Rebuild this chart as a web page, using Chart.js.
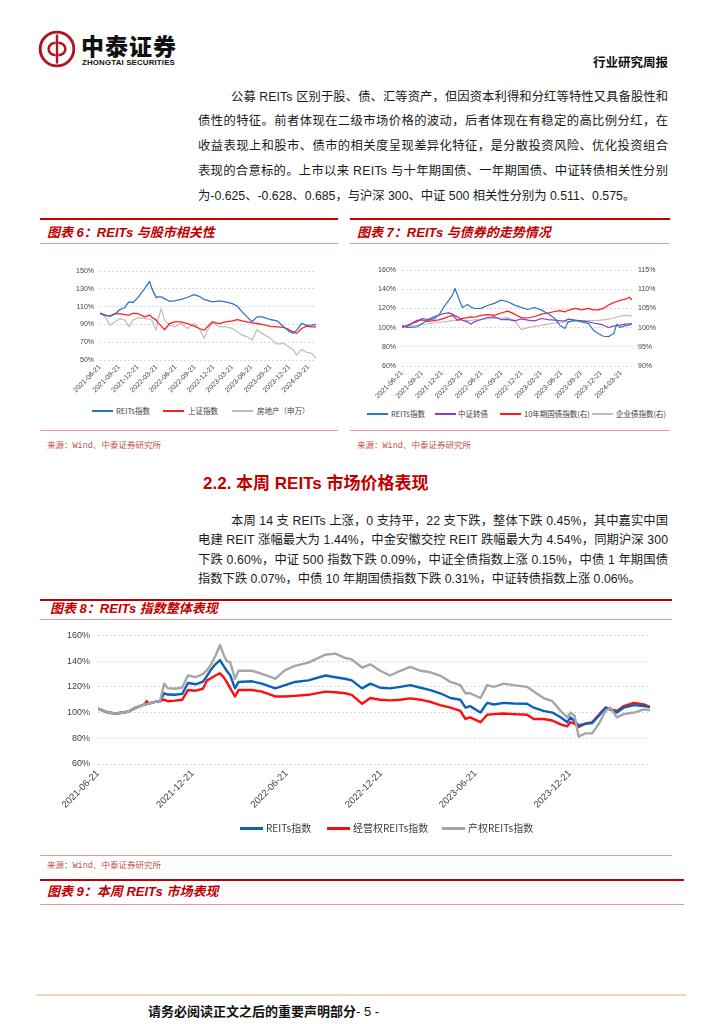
<!DOCTYPE html>
<html>
<head>
<meta charset="utf-8">
<script src="https://cdn.jsdelivr.net/npm/chart.js@4.4.1/dist/chart.umd.min.js"></script>
<style>
  body { margin: 0; background: #fff; }
  #page { position: relative; width: 724px; height: 1024px; overflow: hidden; background: #fff;
          font-family: "Liberation Sans", "Noto Sans CJK SC", sans-serif; color: #1a1a1a; }
  .abs { position: absolute; white-space: nowrap; }
  .txt { position: absolute; white-space: nowrap; font-size: 12.3px; line-height: 18px; height: 18px; }
  .thick { position: absolute; height: 2px; background: #c00000; }
  .thin { position: absolute; height: 1px; background: #e99a9a; }
  .ctitle { position: absolute; white-space: nowrap; color: #c00000; font: italic bold 13px "Liberation Sans", "Noto Sans CJK SC", sans-serif; line-height: 16px; }
  .src { position: absolute; white-space: nowrap; color: #c0504d; font: 8.5px "Liberation Mono", "Noto Sans CJK SC", monospace; line-height: 10px; }
  .box { position: absolute; }
  .lg-line { position: absolute; }
  .lg-text { position: absolute; white-space: nowrap; color: #404040; font-family: "Noto Sans CJK SC", sans-serif; }
</style>
</head>
<body>
<div id="page">
  <!-- header -->
  <svg class="abs" style="left:38px;top:30px" width="38" height="38" viewBox="0 0 42 42">
    <circle cx="21" cy="21" r="18.6" fill="none" stroke="#b3141c" stroke-width="3.2"/>
    <path d="M21 5 V37" stroke="#b3141c" stroke-width="2.6"/>
    <path d="M19.5 14.5 A6.6 6.6 0 1 0 19.5 27.5" fill="none" stroke="#b3141c" stroke-width="2.8"/>
    <path d="M22.5 14.5 A6.6 6.6 0 1 1 22.5 27.5" fill="none" stroke="#b3141c" stroke-width="2.8"/>
  </svg>
  <div class="abs" style="left:81px;top:31px;font:900 23px 'Noto Sans CJK SC';line-height:28px;letter-spacing:1px;color:#111;">中泰证券</div>
  <div class="abs" style="left:82px;top:58px;font:bold 7.9px 'Liberation Sans';line-height:10px;letter-spacing:0.15px;color:#111;">ZHONGTAI SECURITIES</div>
  <div class="abs" style="left:592px;top:53px;width:76px;text-align:right;font:bold 12.5px 'Noto Sans CJK SC';line-height:18px;color:#111;">行业研究周报</div>

  <!-- paragraph 1 -->
  <div class="txt fit" data-w="437" style="left:231px;top:88px;">公募 REITs 区别于股、债、汇等资产，但因资本利得和分红等特性又具备股性和</div>
  <div class="txt fit" data-w="470" style="left:198px;top:112px;">债性的特征。前者体现在二级市场价格的波动，后者体现在有稳定的高比例分红，在</div>
  <div class="txt fit" data-w="470" style="left:198px;top:137px;">收益表现上和股市、债市的相关度呈现差异化特征，是分散投资风险、优化投资组合</div>
  <div class="txt fit" data-w="470" style="left:198px;top:162px;">表现的合意标的。上市以来 REITs 与十年期国债、一年期国债、中证转债相关性分别</div>
  <div class="txt" style="left:198px;top:187px;">为-0.625、-0.628、0.685，与沪深 300、中证 500 相关性分别为 0.511、0.575。</div>

  <!-- figure 6 frame -->
  <div class="thick" style="left:40px;top:218px;width:298px;"></div>
  <div class="ctitle" style="left:47px;top:225px;">图表 6：REITs 与股市相关性</div>
  <div class="thin" style="left:40px;top:243px;width:298px;"></div>
  <div class="box" style="left:40px;top:250px;width:298px;height:145px;"><canvas id="fig6"></canvas></div>
  <div class="thin" style="left:40px;top:430px;width:298px;"></div>
  <div class="src" style="left:47px;top:441px;">来源：Wind、中泰证券研究所</div>

  <!-- figure 7 frame -->
  <div class="thick" style="left:350px;top:218px;width:320px;"></div>
  <div class="ctitle" style="left:357px;top:225px;">图表 7：REITs 与债券的走势情况</div>
  <div class="thin" style="left:350px;top:243px;width:320px;"></div>
  <div class="box" style="left:350px;top:250px;width:320px;height:150px;"><canvas id="fig7"></canvas></div>
  <div class="thin" style="left:350px;top:430px;width:320px;"></div>
  <div class="src" style="left:357px;top:441px;">来源：Wind、中泰证券研究所</div>

  <!-- section 2.2 -->
  <div class="abs" style="left:203px;top:473px;font:bold 17px 'Liberation Sans','Noto Sans CJK SC';line-height:22px;color:#c00000;">2.2. 本周 REITs 市场价格表现</div>
  <div class="txt fit" data-w="437" style="left:231px;top:512px;">本周 14 支 REITs 上涨，0 支持平，22 支下跌，整体下跌 0.45%，其中嘉实中国</div>
  <div class="txt fit" data-w="470" style="left:198px;top:531px;">电建 REIT 涨幅最大为 1.44%，中金安徽交控 REIT 跌幅最大为 4.54%，同期沪深 300</div>
  <div class="txt fit" data-w="470" style="left:198px;top:551px;">下跌 0.60%，中证 500 指数下跌 0.09%，中证全债指数上涨 0.15%，中债 1 年期国债</div>
  <div class="txt" style="left:198px;top:570px;">指数下跌 0.07%，中债 10 年期国债指数下跌 0.31%，中证转债指数上涨 0.06%。</div>

  <!-- figure 8 frame -->
  <div class="thick" style="left:40px;top:599px;width:632px;"></div>
  <div class="ctitle" style="left:50px;top:601px;">图表 8：REITs 指数整体表现</div>
  <div class="thin" style="left:40px;top:619px;width:632px;"></div>
  <div class="box" style="left:40px;top:622px;width:632px;height:200px;"><canvas id="fig8"></canvas></div>
  <div class="thin" style="left:40px;top:855px;width:632px;"></div>
  <div class="src" style="left:47px;top:861px;">来源：Wind、中泰证券研究所</div>

  <!-- figure 9 frame -->
  <div class="thick" style="left:40px;top:879px;width:644px;"></div>
  <div class="ctitle" style="left:47px;top:884px;">图表 9：本周 REITs 市场表现</div>
  <div class="thin" style="left:40px;top:904px;width:644px;"></div>

  <!-- footer -->
  <div class="abs" style="left:36px;top:994px;width:650px;height:2px;background:#f0d6bf;"></div>
  <div class="abs" style="left:148px;top:1001px;line-height:18px;"><span style="font:bold 13px 'Noto Sans CJK SC';color:#111;">请务必阅读正文之后的重要声明部分</span><span style="font:13px 'Liberation Sans';color:#111;">- 5 -</span></div>
</div>

<script>
// ---------------- figure 6: REITs vs equity ----------------
const dates6 = ['2021-06-21','2021-07-15','2021-08-08','2021-09-01','2021-09-25','2021-10-19','2021-11-07','2021-11-27','2021-12-21',
  '2022-01-22','2022-02-15','2022-02-26','2022-03-19','2022-03-27','2022-04-12','2022-04-28','2022-05-22','2022-06-15','2022-07-17',
  '2022-08-17','2022-09-18','2022-10-12','2022-11-05','2022-11-21','2022-12-15','2023-01-16','2023-02-17','2023-03-21','2023-04-14',
  '2023-05-07','2023-05-31','2023-06-24','2023-07-18','2023-08-11','2023-09-20','2023-10-22','2023-11-23','2023-12-17','2024-01-09',
  '2024-01-25','2024-02-18','2024-03-13','2024-04-06','2024-04-27'];
const reits6 = [103, 100.4, 99.3, 101.5, 106.7, 109, 115.3, 114.6, 120.1, 130.2, 138.4, 130.2, 120.1, 121, 121, 119, 116, 116.5, 118,
  120.5, 123.5, 121.6, 118, 117, 115.3, 116.4, 115.3, 113.4, 110.4, 104.1, 98.5, 92.9, 98.5, 98.5, 95.5, 94, 87.3, 82.8, 79.9,
  83.6, 91.1, 89, 89.2, 89.9];
const shIndex6 = [102.2, 100.4, 99.3, 102.2, 101.8, 101, 100.4, 102.5, 102, 98.5, 100.4, 98, 94.8, 92, 88, 84, 91, 92.9, 92.9,
  91, 88, 85.4, 83.6, 87.3, 92.9, 91, 92.9, 94, 95.5, 94, 92.9, 91.8, 91, 90, 87.8, 87.3, 86.6, 84.3, 81.7,
  79.9, 85.4, 88, 87.3, 87.3];
const realEstate6 = [102.2, 99, 89.2, 92.9, 96.6, 94.8, 87.3, 94.8, 97.5, 96.6, 96, 94.8, 83.6, 94.8, 107.8, 94.8, 89.2, 87.3, 91,
  85.4, 91, 85.4, 74.3, 83.6, 92, 87.3, 87.3, 85.4, 81.7, 78, 76.1, 72.4, 84, 79.9, 74.3, 67.9, 68.7, 64.9, 61.2,
  55.6, 61.9, 58.5, 57.5, 51.9];
const quarterTicks = ['2021-06-21','2021-09-21','2021-12-21','2022-03-21','2022-06-21','2022-09-21','2022-12-21','2023-03-21',
  '2023-06-21','2023-09-21','2023-12-21','2024-03-21'];

// ---------------- figure 7: REITs vs bonds ----------------
const dates7 = ['2021-06-21','2021-07-14','2021-08-06','2021-08-29','2021-09-21','2021-10-18','2021-11-14','2021-12-07','2021-12-30',
  '2022-01-22','2022-02-07','2022-02-19','2022-03-02','2022-03-14','2022-03-25','2022-04-17','2022-05-03','2022-05-18','2022-06-18',
  '2022-07-18','2022-08-18','2022-09-18','2022-10-19','2022-11-19','2022-12-19','2023-01-19','2023-02-19','2023-03-22','2023-04-21',
  '2023-05-22','2023-06-14','2023-07-07','2023-07-23','2023-08-23','2023-09-22','2023-10-23','2023-11-15','2023-12-08','2023-12-31',
  '2024-01-23','2024-02-16','2024-03-02','2024-03-17','2024-04-09','2024-04-28','2024-05-10'];
const reits7 = [102.5, 100.1, 100.5, 100.8, 104.3, 107.7, 109, 113, 121.5, 128.6, 133.9, 140.8, 133.9, 126.9, 121, 124, 121.5, 119.9, 120,
  123, 125.2, 128.6, 126.9, 123.4, 121, 118.9, 121, 118.2, 114.7, 109.5, 102.5, 99, 106, 107.7, 106, 104.3, 97.3, 93.8, 91,
  90.5, 93.8, 103.6, 100.1, 102, 102.5, 104.3];
const convBond7 = [100.8, 101.5, 104.3, 106, 109.5, 108.4, 111.2, 113, 114.7, 115.4, 114, 112.5, 111.2, 109.5, 107.7, 106, 103.6, 106, 108.4,
  110.5, 111.2, 108.4, 108.5, 107, 109, 107.7, 107, 109.5, 108.4, 107.7, 107.2, 107, 108.8, 107.7, 107, 106, 104.8, 103.8, 102.5,
  100.1, 101.5, 102, 102.5, 103.6, 104, 104.3];
const govBond7 = [100, 100.6, 101.1, 101.9, 102, 101.6, 101.8, 102, 102.4, 102.9, 103.2, 102.6, 101.9, 102.2, 102.4, 102.6, 102.8, 102.7, 103.2,
  103.4, 103.2, 103.8, 104.3, 103.5, 102.6, 102.5, 102.9, 103.5, 103.8, 104.2, 104.4, 104.1, 104.5, 105, 104.6, 105, 104.6, 104.6, 105,
  105.9, 106.5, 106.8, 107.1, 107.4, 107.9, 107.2];
const corpBond7 = [100, 100.3, 100.5, 100.6, 100.8, 101, 101.2, 101.4, 101.5, 101.7, 101.9, 101.9, 101.8, 101.9, 101.9, 101.9, 101.9, 102, 102.1,
  102.3, 102.4, 102.5, 102.6, 101.9, 99.5, 100, 100.4, 100.6, 100.9, 101.2, 101.3, 101.5, 101.5, 101.6, 101.8, 101.8, 101.8, 101.9, 102,
  102.2, 102.5, 102.8, 103, 103.2, 103.1, 103];

// ---------------- figure 8: REITs index family ----------------
const dates8 = ['2021-06-21','2021-07-01','2021-07-11','2021-07-24','2021-08-06','2021-08-19','2021-09-01','2021-09-20','2021-09-23','2021-09-27',
  '2021-10-09','2021-10-19','2021-10-27','2021-11-03','2021-11-17','2021-12-01','2021-12-12','2021-12-27','2022-01-10','2022-01-18',
  '2022-01-24','2022-02-03','2022-02-12','2022-02-19','2022-02-25','2022-03-04','2022-03-13','2022-03-20','2022-04-15','2022-05-04',
  '2022-05-30','2022-06-18','2022-07-07','2022-08-02','2022-09-04','2022-09-23','2022-10-12','2022-10-25','2022-11-14','2022-11-30',
  '2022-12-19','2023-01-07','2023-01-27','2023-02-15','2023-03-07','2023-03-26','2023-04-14','2023-05-04','2023-05-23','2023-06-02',
  '2023-06-11','2023-07-01','2023-07-14','2023-07-27','2023-08-15','2023-09-03','2023-09-29','2023-10-12','2023-10-31','2023-11-17',
  '2023-12-03','2023-12-16','2023-12-22','2023-12-30','2024-01-07','2024-01-20','2024-02-02','2024-02-15','2024-02-28','2024-03-08',
  '2024-03-21','2024-04-03','2024-04-23','2024-05-12','2024-05-24'];
const reits8 = [103, 101.5, 100, 99.3, 99.8, 100.8, 103.8, 106.3, 106.5, 107,
  108.3, 108.8, 115, 114, 113.8, 114.5, 123, 122, 124, 128.5,
  132.5, 137.5, 140.8, 136.3, 132.5, 128.8, 118.8, 123.8, 124.3, 122.5,
  118.8, 121.3, 123.8, 125, 128.8, 127.5, 126.3, 125, 118.8, 122.5,
  119.3, 118.8, 120, 121.3, 119.3, 117.5, 115, 111.3, 110, 103.8,
  105, 100, 107.5, 106.3, 107.5, 107, 106.8, 103.8, 101.3, 100,
  96.3, 92.5, 96.3, 93.3, 90, 91.3, 91.8, 97.5, 103.8, 102.5,
  100, 103.8, 105.8, 105, 104.3];
const operating8 = [103, 101.5, 100, 99.3, 99.8, 100.8, 103.5, 106.5, 109, 107,
  108.3, 108.8, 110, 108.8, 109.3, 110, 117.5, 117, 118.5, 125,
  126.3, 128.8, 130.5, 127.5, 123.8, 118.8, 112.5, 117.5, 117.5, 116.3,
  112.5, 112.5, 113, 113.8, 116.3, 115.8, 115, 113.8, 106.8, 111.3,
  110, 109.5, 110, 111, 110, 108.3, 105.8, 103.8, 101.3, 95,
  96.3, 92.5, 98.3, 98.8, 99.3, 98.8, 98.3, 95, 95, 93.8,
  90.8, 89.3, 92.5, 91.3, 88.8, 91.3, 92.5, 98.3, 103.8, 102.5,
  101.3, 105, 107.5, 106.3, 104.3];
const property8 = [103, 101.5, 100, 99.3, 99.8, 100.8, 103.8, 106.3, 106.5, 107,
  108.3, 108.8, 122.5, 119, 118.5, 119.5, 128.8, 127.5, 130, 133,
  136.3, 143.8, 152.5, 145, 140, 138.8, 126.3, 132.5, 132.5, 130,
  126.3, 133, 136.3, 138.8, 145, 145.8, 142.5, 141.3, 135, 137.5,
  132.5, 128.8, 132.5, 135.5, 132.5, 131.3, 128.8, 123.8, 121.3, 115,
  115, 111.3, 121.3, 120, 122.5, 121.3, 120, 116.3, 111.3, 108.8,
  101.3, 96.3, 100, 97.5, 81.3, 83.8, 83.8, 91.3, 101.3, 103.8,
  96.3, 98.8, 100, 102.5, 101.8];
const halfYearTicks = ['2021-06-21','2021-12-21','2022-06-21','2022-12-21','2023-06-21','2023-12-21'];

// ---------------- helpers ----------------
const DAY_MS = 86400000;
function toDay(s) {
  const p = s.split('-');
  return Date.UTC(+p[0], +p[1] - 1, +p[2]) / DAY_MS;
}
function toPoints(dates, values) {
  const d0 = toDay(dates[0]);
  return values.map((v, i) => ({ x: toDay(dates[i]) - d0, y: v }));
}
function lineSet(label, dates, values, color, width, extra) {
  return Object.assign({
    label: label, data: toPoints(dates, values), borderColor: color, backgroundColor: color,
    borderWidth: width, pointRadius: 0, pointHoverRadius: 0, tension: 0, fill: false
  }, extra || {});
}
function dateAxis(dates, ticks, fontSize, height, padding) {
  const d0 = toDay(dates[0]);
  return {
    type: 'linear',
    min: 0,
    max: toDay(dates[dates.length - 1]) - d0,
    grid: { display: false, drawTicks: false },
    border: { display: false },
    afterBuildTicks: s => { s.ticks = ticks.map(t => ({ value: toDay(t) - d0 })); },
    afterFit: s => { s.height = height; },
    ticks: {
      autoSkip: false, minRotation: 45, maxRotation: 45, padding: padding,
      color: '#404040', font: { family: 'Liberation Sans', size: fontSize },
      callback: (v, i) => ticks[i]
    }
  };
}
function pctAxis(min, max, step, width, fontSize, position, showGrid, padding) {
  return {
    type: 'linear', position: position, min: min, max: max,
    grid: { display: showGrid, drawTicks: false, color: '#d9d9d9', lineWidth: 1 },
    border: { display: false, dash: [2, 2] },
    afterFit: s => { s.width = width; },
    ticks: {
      stepSize: step, padding: padding, color: '#404040',
      font: { family: 'Liberation Sans', size: fontSize },
      callback: v => v + '%'
    }
  };
}
function baseOptions(pad) {
  return {
    responsive: true, maintainAspectRatio: false, animation: false, devicePixelRatio: 1,
    layout: { padding: pad },
    plugins: { legend: { display: false }, tooltip: { enabled: false } },
    elements: { line: { borderJoinStyle: 'round' } }
  };
}
// legend drawn as html under the chart, colours and labels taken from the datasets
function htmlLegend(chart, spots, y, lineW, lineH, fontSize) {
  const page = document.getElementById('page');
  chart.data.datasets.forEach((ds, i) => {
    const ln = document.createElement('div');
    ln.className = 'lg-line';
    ln.style.cssText = `left:${spots[i][0]}px;top:${y - lineH / 2}px;width:${lineW}px;height:${lineH}px;background:${ds.borderColor};`;
    page.appendChild(ln);
    const tx = document.createElement('div');
    tx.className = 'lg-text';
    tx.textContent = ds.label;
    tx.style.cssText = `left:${spots[i][1]}px;top:${y - fontSize * 0.7}px;font-size:${fontSize}px;line-height:${fontSize * 1.4}px;`;
    page.appendChild(tx);
  });
}

// justify single text lines to their column width
document.querySelectorAll('.fit').forEach(el => {
  const target = parseFloat(el.dataset.w);
  const natural = el.getBoundingClientRect().width;
  const n = el.textContent.length;
  el.style.letterSpacing = ((target - natural) / (n - 1)) + 'px';
});

// ---------------- figure 6 ----------------
const opt6 = baseOptions({ top: 21, right: 22, left: 0, bottom: 0 });
opt6.scales = {
  x: dateAxis(dates6, quarterTicks, 7, 35, 3),
  y: pctAxis(50, 150, 20, 60, 7, 'left', true, 6)
};
const chart6 = new Chart(document.getElementById('fig6'), {
  type: 'line',
  data: { datasets: [
    lineSet('REITs指数', dates6, reits6, '#2f73c3', 1.3),
    lineSet('上证指数', dates6, shIndex6, '#ff1f1f', 1.3),
    lineSet('房地产（申万）', dates6, realEstate6, '#c0c0c0', 1.3)
  ] },
  options: opt6
});
htmlLegend(chart6, [[92, 116], [163, 188], [232, 257]], 411, 21, 2, 7.5);

// ---------------- figure 7 ----------------
const opt7 = baseOptions({ top: 20, right: 0, left: 0, bottom: 0 });
opt7.scales = {
  x: dateAxis(dates7, quarterTicks, 7, 34, 3),
  y: pctAxis(60, 160, 20, 52, 7, 'left', true, 6),
  y1: pctAxis(90, 115, 5, 38, 7, 'right', false, 6)
};
const chart7 = new Chart(document.getElementById('fig7'), {
  type: 'line',
  data: { datasets: [
    lineSet('REITs指数', dates7, reits7, '#2e75c6', 1.2, { yAxisID: 'y' }),
    lineSet('中证转债', dates7, convBond7, '#8540c4', 1.2, { yAxisID: 'y' }),
    lineSet('10年期国债指数(右)', dates7, govBond7, '#ff1a1a', 1.2, { yAxisID: 'y1' }),
    lineSet('企业债指数(右)', dates7, corpBond7, '#bdbdbd', 1.2, { yAxisID: 'y1' })
  ] },
  options: opt7
});
htmlLegend(chart7, [[367, 391], [435, 458], [500, 524], [592, 616]], 414, 21, 1.5, 7.5);

// ---------------- figure 8 ----------------
const opt8 = baseOptions({ top: 9, right: 22, left: 0, bottom: 0 });
opt8.scales = {
  x: dateAxis(dates8, halfYearTicks, 9.5, 58, 4),
  y: pctAxis(60, 160, 10, 58, 9, 'left', true, 8)
};
const chart8 = new Chart(document.getElementById('fig8'), {
  type: 'line',
  data: { datasets: [
    lineSet('REITs指数', dates8, reits8, '#0a62b8', 2.4, { order: 1 }),
    lineSet('经营权REITs指数', dates8, operating8, '#ff0d0d', 2.4, { order: 2 }),
    lineSet('产权REITs指数', dates8, property8, '#a6a6a6', 2.4, { order: 0 })
  ] },
  options: opt8
});
htmlLegend(chart8, [[240, 266], [327, 353], [442, 468]], 828, 23, 3, 10);
</script>
</body>
</html>
